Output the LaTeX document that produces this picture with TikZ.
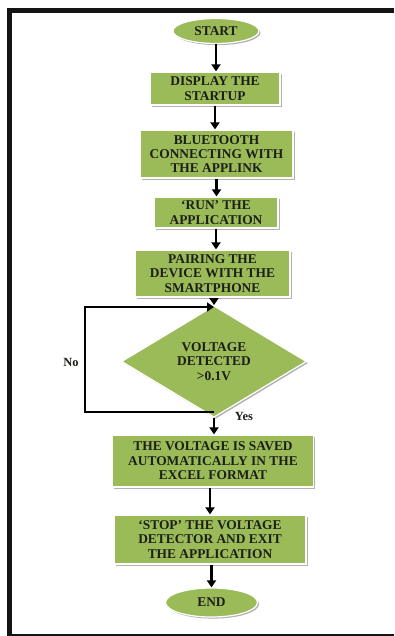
\documentclass[tikz,border=0pt]{standalone}
\usepackage{fontspec}
\setmainfont{Liberation Serif}
\usepackage{tikz}
\usetikzlibrary{shapes.geometric, arrows.meta, shadows}

\definecolor{boxgreen}{RGB}{155,187,89}
\definecolor{inkdark}{RGB}{28,30,24}

\begin{document}
\begin{tikzpicture}[x=1pt, y=-1pt]
  \tikzset{
    green shape/.style={fill=boxgreen, draw=white, line width=1.2pt,
      drop shadow={shadow xshift=1.6pt, shadow yshift=-1.6pt, fill=black!30, opacity=1},
      text=inkdark, align=center, inner sep=0pt,
      font=\fontsize{13.4}{14.4}\selectfont\bfseries},
    proc box/.style={green shape, rectangle},
    term node/.style={green shape, ellipse},
    dec node/.style={green shape, diamond},
    flow arrow/.style={line width=2.8pt, -{Triangle[length=7pt,width=9pt]}},
    side label/.style={font=\fontsize{12.5}{14}\selectfont\bfseries, text=inkdark},
  }

  \useasboundingbox (0,0) rectangle (394,636);

  % frame
  \fill[black!92] (7,8) rectangle (394,13);
  \fill[black!92] (7,8) rectangle (12,636);
  \fill[black!92] (7,634) rectangle (394,636);

  % steps
  \node[term node, minimum width=86pt, minimum height=25pt] (start) at (216,31) {START};
  \node[proc box, minimum width=130pt, minimum height=33pt] (disp) at (215,88.5) {DISPLAY THE\\STARTUP};
  \node[proc box, minimum width=153pt, minimum height=48pt] (blue) at (216.5,154) {BLUETOOTH\\CONNECTING WITH\\THE APPLINK};
  \node[proc box, minimum width=124pt, minimum height=31pt] (run) at (216,212.5) {`RUN' THE\\APPLICATION};
  \node[proc box, minimum width=155pt, minimum height=47pt] (pair) at (212.5,273.5) {PAIRING THE\\DEVICE WITH THE\\SMARTPHONE};
  \node[dec node, minimum width=185pt, minimum height=85pt] (dec) at (214,361.5) {VOLTAGE\\DETECTED\\{>}0.1V};
  \node[proc box, minimum width=201pt, minimum height=52pt] (saved) at (213,461) {THE VOLTAGE IS SAVED\\AUTOMATICALLY IN THE\\EXCEL FORMAT};
  \node[proc box, minimum width=192pt, minimum height=49pt] (stop) at (210,539.5) {`STOP' THE VOLTAGE\\DETECTOR AND EXIT\\THE APPLICATION};
  \node[term node, minimum width=92pt, minimum height=29pt] (end) at (211.5,602.5) {END};

  % loop back when no voltage
  \coordinate (merge) at (214,307);
  \coordinate (split) at (214,412);
  \coordinate (noturn) at (85,412);

  \draw[flow arrow] (start.south) -- (start.south |- disp.north);
  \draw[flow arrow] (disp.south) -- (disp.south |- blue.north);
  \draw[flow arrow] (blue.south) -- (blue.south |- run.north);
  \draw[flow arrow] (run.south) -- (run.south |- pair.north);
  \draw[flow arrow] (pair.south -| dec.north) -- (dec.north);
  \draw[flow arrow] (dec.south) -- (dec.south |- saved.north);
  \draw[flow arrow] (saved.south -| stop.north) -- (stop.north);
  \draw[flow arrow] (stop.south -| end.north) -- (end.north);
  \draw[flow arrow] (split) -- (noturn) |- (merge);

  \node[side label] (nolab) at (71,362) {No};
  \node[side label] (yeslab) at (244,416) {Yes};
\end{tikzpicture}
\end{document}
